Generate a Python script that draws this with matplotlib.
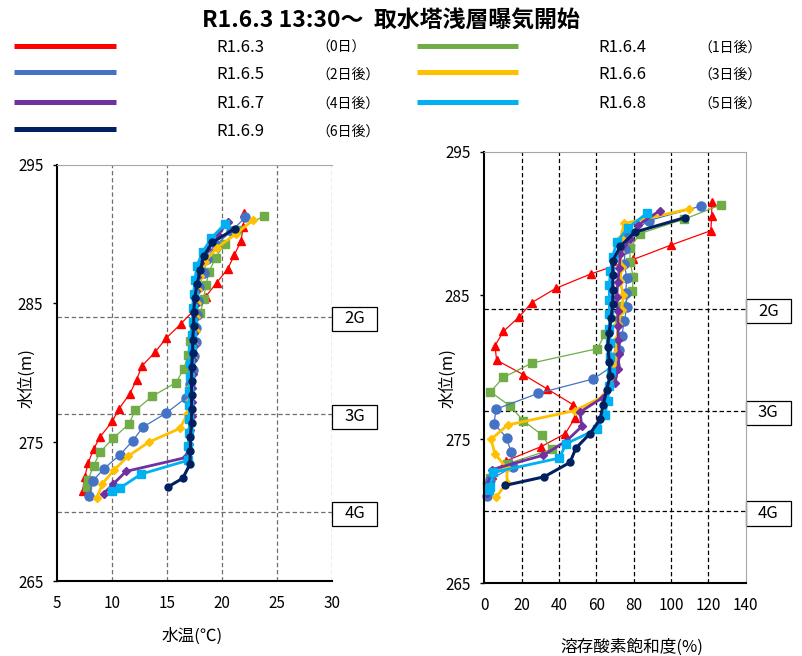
import matplotlib.pyplot as plt
import matplotlib.transforms as mtransforms
from matplotlib.lines import Line2D
from matplotlib.patches import Rectangle

plt.rcParams['font.family'] = ['Noto Sans CJK JP', 'DejaVu Sans']

titel = "R1.6.3 13:30～  取水塔浅層曝気開始"
namen = ["R1.6.3", "R1.6.4", "R1.6.5", "R1.6.6", "R1.6.7", "R1.6.8", "R1.6.9"]
tage = ["（0日）", "（1日後）", "（2日後）", "（3日後）", "（4日後）", "（5日後）", "（6日後）"]

# Wasserstand (m), Wassertemperatur (°C), DO-Sättigung (%) je Messtag
h_0603 = [291.5, 290.5, 289.5, 288.5, 287.5, 286.5, 285.5, 284.5, 283.5, 282.5, 281.5,
          280.5, 279.5, 278.5, 277.4, 276.5, 275.4, 274.5, 273.5, 272.5, 271.5]
t_0603 = [22.0, 21.9, 21.7, 21.1, 20.5, 19.5, 18.5, 17.4, 16.2, 14.9, 13.9,
          12.7, 12.2, 11.6, 10.6, 10.0, 8.9, 8.3, 7.8, 7.5, 7.3]
do_0603 = [121.8, 121.8, 121.3, 100.0, 79.8, 57.2, 38.4, 25.4, 18.6, 10.2, 5.7,
           6.6, 20.9, 33.7, 47.7, 48.6, 43.4, 30.5, 11.6, 4.0, 2.0]

h_0604 = [291.3, 290.3, 289.3, 288.3, 287.3, 286.3, 285.3, 284.3, 283.3, 282.3, 281.3,
          280.3, 279.3, 278.3, 277.3, 276.3, 275.3, 274.3, 273.3, 272.3, 271.8]
t_0604 = [23.8, 21.3, 20.2, 19.4, 18.8, 18.5, 18.3, 18.0, 17.4, 17.1, 16.9,
          16.5, 15.8, 13.6, 12.1, 11.5, 10.1, 8.9, 8.3, 7.8, 7.7]
do_0604 = [126.8, 107.1, 83.4, 78.0, 78.0, 79.8, 79.3, 74.5, 72.2, 64.6, 60.5,
           25.4, 10.2, 3.3, 14.0, 20.8, 31.0, 36.0, 12.1, 3.2, 1.5]

h_0605 = [291.2, 290.2, 289.2, 288.2, 287.2, 286.2, 285.2, 284.2, 283.2, 282.2, 281.2,
          280.2, 279.2, 278.2, 277.1, 276.1, 275.1, 274.1, 273.1, 272.2, 271.1]
t_0605 = [22.1, 20.8, 19.4, 18.6, 18.3, 17.9, 17.8, 17.7, 17.6, 17.6, 17.4,
          17.3, 17.1, 16.7, 14.9, 12.8, 11.85, 10.7, 9.25, 8.2, 7.9]
do_0605 = [115.8, 88.0, 77.0, 75.4, 75.0, 76.3, 75.7, 76.3, 75.0, 73.6, 72.3,
           70.0, 58.4, 28.9, 6.3, 5.2, 12.0, 14.3, 15.4, 3.1, 1.3]

h_0606 = [291.0, 290.0, 289.0, 288.0, 287.0, 286.0, 285.0, 284.0, 283.0, 282.0, 281.0,
          280.0, 279.0, 278.0, 277.0, 276.0, 275.0, 274.0, 273.0, 272.0, 271.0]
t_0606 = [22.8, 21.2, 19.5, 18.4, 18.0, 17.8, 17.7, 17.6, 17.6, 17.4, 17.3,
          17.2, 17.1, 17.0, 16.8, 16.15, 13.3, 11.45, 10.15, 9.1, 8.6]
do_0606 = [109.5, 74.9, 73.0, 72.5, 73.6, 72.7, 74.5, 73.5, 71.8, 71.0, 70.5,
           70.0, 69.0, 64.0, 48.6, 12.5, 3.6, 5.7, 12.0, 12.3, 6.3]

h_0607 = [290.9, 289.9, 288.9, 287.9, 286.9, 285.9, 284.9, 283.9, 282.9, 281.9, 280.9,
          279.9, 278.9, 277.9, 276.9, 275.9, 274.9, 273.9, 272.9, 272.0, 271.3]
t_0607 = [20.5, 19.6, 18.6, 18.0, 17.7, 17.6, 17.5, 17.4, 17.4, 17.4, 17.3,
          17.3, 17.2, 17.2, 17.2, 17.1, 17.0, 16.7, 11.25, 10.1, 9.2]
do_0607 = [94.1, 82.5, 78.0, 72.7, 72.3, 71.5, 70.9, 71.5, 71.6, 71.8, 72.3,
           71.5, 70.0, 63.4, 51.3, 52.2, 44.1, 31.6, 4.0, 2.5, 1.5]

h_0608 = [290.7, 289.7, 288.7, 287.7, 286.7, 285.7, 284.7, 283.7, 282.7, 281.7, 280.7,
          279.7, 278.7, 277.7, 276.7, 275.7, 274.7, 273.7, 272.7, 271.7, 271.5]
t_0608 = [20.2, 19.0, 18.2, 17.7, 17.5, 17.4, 17.3, 17.3, 17.2, 17.2, 17.1,
          17.1, 17.0, 17.0, 17.0, 17.0, 16.9, 16.9, 12.6, 10.7, 10.0]
do_0608 = [87.0, 77.0, 70.9, 68.8, 67.5, 67.0, 67.0, 67.0, 67.0, 67.5, 67.5,
           68.0, 67.0, 66.0, 64.6, 60.2, 43.8, 40.2, 4.8, 3.1, 2.5]

h_0609 = [290.4, 289.4, 288.4, 287.4, 286.4, 285.4, 284.4, 283.4, 282.4, 281.4,
          280.4, 279.4, 278.4, 277.4, 276.4, 275.4, 274.4, 273.4, 272.4, 271.8]
t_0609 = [21.15, 19.1, 18.3, 18.0, 17.7, 17.5, 17.4, 17.4, 17.3, 17.3,
          17.2, 17.2, 17.2, 17.2, 17.2, 17.1, 17.1, 17.05, 16.4, 15.1]
do_0609 = [107.3, 80.7, 72.7, 68.8, 68.8, 68.8, 68.8, 67.9, 66.8, 66.1,
           67.0, 67.3, 65.5, 63.7, 62.0, 56.6, 49.1, 45.9, 32.1, 11.1]

hoehen = [h_0603, h_0604, h_0605, h_0606, h_0607, h_0608, h_0609]
temperaturen = [t_0603, t_0604, t_0605, t_0606, t_0607, t_0608, t_0609]
sauerstoff = [do_0603, do_0604, do_0605, do_0606, do_0607, do_0608, do_0609]

# Gate-Höhen
gates = ["2G", "3G", "4G"]
gate_hoehen = [284.05, 277.0, 270.0]

# Stil je Serie: Farbe, Marker, Markergröße, Linienbreite
farben = ["#FF0000", "#70AD47", "#4472C4", "#FFC000", "#7030A0", "#00B0F0", "#002060"]
marker = ["^", "s", "o", "D", "D", "s", "o"]
msize = [6, 5.5, 6.5, 4.2, 3.6, 5.5, 5.0]
lwidth = [0.9, 0.9, 0.9, 2.0, 2.0, 2.0, 2.2]

W, H = 802, 656
fig = plt.figure(figsize=(W / 100, H / 100), dpi=100)


def px(x0, y0, x1, y1):
    # Pixelrechteck -> Figurenkoordinaten
    return [x0 / W, 1 - y1 / H, (x1 - x0) / W, (y1 - y0) / H]


def achse_einrichten(ax, xlim, xticks, gridfarbe, rechts_spine):
    ax.set_xlim(*xlim)
    ax.set_ylim(265, 295)
    ax.set_xticks(xticks)
    ax.set_yticks([265, 275, 285, 295])
    for x in xticks[1:]:
        if x == xlim[1] and rechts_spine:
            continue
        ax.axvline(x, color=gridfarbe, lw=0.9, ls=(0, (3.5, 2.2)), zorder=0.5)
    for g in gate_hoehen:
        ax.axhline(g, color=gridfarbe, lw=0.9, ls=(0, (3.5, 2.2)), zorder=0.5)
    ax.spines["left"].set_linewidth(1.5)
    ax.spines["bottom"].set_linewidth(1.5)
    ax.spines["top"].set_color("#a6a6a6")
    ax.spines["top"].set_linewidth(0.8)
    if rechts_spine:
        ax.spines["right"].set_color("#a6a6a6")
        ax.spines["right"].set_linewidth(0.8)
    else:
        ax.spines["right"].set_visible(False)
    ax.tick_params(axis="y", direction="out", length=3, width=1, pad=7, labelsize=11)
    ax.tick_params(axis="x", length=0, pad=10, labelsize=11)


def gate_boxen(ax, breite, hoehe):
    trans = mtransforms.blended_transform_factory(ax.transAxes, ax.transData)
    for name, g in zip(gates, gate_hoehen):
        mitte = g - 0.15
        ax.add_patch(Rectangle((1.0, mitte - hoehe / 2), breite, hoehe, transform=trans,
                               facecolor="white", edgecolor="black", lw=0.9, clip_on=False))
        ax.text(1.0 + breite / 2, mitte, name, transform=trans, ha="center", va="center",
                fontsize=12)


def serien_zeichnen(ax, werte):
    for i in range(len(namen)):
        ax.plot(werte[i], hoehen[i], color=farben[i], marker=marker[i], ms=msize[i],
                lw=lwidth[i], mec=farben[i], zorder=2 + i * 0.1, clip_on=False)


# Wassertemperatur
ax1 = fig.add_axes(px(57.3, 164.7, 332.3, 581))
achse_einrichten(ax1, (5, 30), [5, 10, 15, 20, 25, 30], "#6e6e6e", False)
serien_zeichnen(ax1, temperaturen)
gate_boxen(ax1, 45 / 275, 1.73)

# Sauerstoffsättigung
ax2 = fig.add_axes(px(484.3, 151.5, 745.7, 583.3))
achse_einrichten(ax2, (0, 140), [0, 20, 40, 60, 80, 100, 120, 140], "black", True)
serien_zeichnen(ax2, sauerstoff)
gate_boxen(ax2, 45 / 261.4, 1.67)

# Achsentitel
fig.text(192 / W, 1 - 636 / H, "水温(℃)", ha="center", va="center", fontsize=12)
fig.text(632 / W, 1 - 647 / H, "溶存酸素飽和度(%)", ha="center", va="center", fontsize=12)
fig.text(27 / W, 1 - 378 / H, "水位(m)", ha="center", va="center", rotation=90, fontsize=12)
fig.text(448 / W, 1 - 378 / H, "水位(m)", ha="center", va="center", rotation=90, fontsize=12)

# Titel
fig.text(391 / W, 1 - 21 / H, titel, ha="center", va="center", fontsize=16.5, fontweight="bold")

# Legende (selbst gezeichnet)
zeilen_y = [45.5, 72, 101.5, 129]
spalten = [(14, 116, 216, 316), (417, 518, 598, 698)]
for i, name in enumerate(namen):
    x0, x1, xt, xd = spalten[i % 2]
    y = zeilen_y[i // 2]
    fig.add_artist(Line2D([x0 / W, x1 / W], [1 - y / H, 1 - y / H], color=farben[i],
                          lw=3.6, solid_capstyle="butt"))
    fig.text(xt / W, 1 - (y + 2.5) / H, name, ha="left", va="center", fontsize=12)
    fig.text(xd / W, 1 - (y + 2.5) / H, tage[i], ha="left", va="center", fontsize=10)

fig.savefig("out.png", dpi=100)
